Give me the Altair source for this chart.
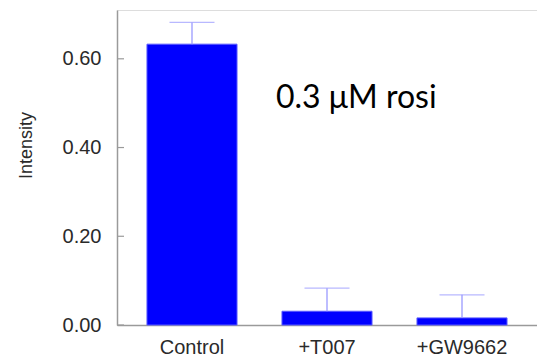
import altair as alt
import pandas as pd

categories = ["Control", "+T007", "+GW9662"]
means = [0.633, 0.031, 0.016]
uppers = [0.682, 0.083, 0.068]
y_ticks = [0.0, 0.2, 0.4, 0.6]

df = pd.DataFrame({"cat": categories, "mean": means, "upper": uppers})
ticks_df = pd.DataFrame({"t": y_ticks})

AXIS_GRAY = "#9a9a9a"
LABEL_COLOR = "#2a2a2a"

xenc = alt.X(
    "cat:N",
    sort=categories,
    title=None,
    scale=alt.Scale(paddingInner=0.333, paddingOuter=0.222),
    axis=alt.Axis(
        ticks=False,
        tickSize=0,
        labelAngle=0,
        labelFont="Liberation Sans",
        labelFontSize=20,
        labelColor=LABEL_COLOR,
        labelPadding=12,
        domainColor=AXIS_GRAY,
        domainWidth=1.5,
    ),
)

yscale = alt.Scale(domain=[0, 0.71], nice=False, zero=True)

bars = alt.Chart(df).mark_bar(color="#0000ff", stroke="#5a5aff", strokeWidth=1).encode(
    x=xenc,
    y=alt.Y(
        "mean:Q",
        scale=yscale,
        title="Intensity",
        axis=alt.Axis(
            values=y_ticks,
            format=".2f",
            ticks=False,
            tickSize=0,
            grid=False,
            labelFont="Liberation Sans",
            labelFontSize=20,
            labelColor=LABEL_COLOR,
            labelPadding=16,
            domainColor=AXIS_GRAY,
            domainWidth=1.5,
            titleFont="Liberation Sans",
            titleFontSize=18,
            titleFontWeight="normal",
            titleColor=LABEL_COLOR,
            titleAngle=270,
            titleAlign="center",
            titleBaseline="alphabetic",
            titleX=-86,
            titleY=135,
        ),
    ),
)

err_line = alt.Chart(df).mark_rule(color="#9a9aff", strokeWidth=1.3).encode(
    x=alt.X("cat:N", sort=categories),
    y=alt.Y("mean:Q", scale=yscale),
    y2="upper:Q",
)

err_cap = alt.Chart(df).mark_tick(color="#9a9aff", thickness=1.3, size=45).encode(
    x=alt.X("cat:N", sort=categories),
    y=alt.Y("upper:Q", scale=yscale),
)

tick_marks = alt.Chart(ticks_df).mark_rule(color=AXIS_GRAY, strokeWidth=1.2).encode(
    y=alt.Y("t:Q", scale=yscale),
    x=alt.value(0),
    x2=alt.value(7),
)

label = alt.Chart(pd.DataFrame({"txt": ["0.3 \u03bcM rosi"]})).mark_text(
    font="Lato", fontSize=32, align="left", baseline="alphabetic", color="#000000"
).encode(
    text="txt:N",
    x=alt.value(159),
    y=alt.value(98),
)

chart = (
    alt.layer(bars, err_line, err_cap, tick_marks, label)
    .properties(
        width=420,
        height=315,
        autosize=alt.AutoSizeParams(type="none"),
        padding={"left": 117, "top": 10, "right": 0, "bottom": 36},
    )
    .configure_view(stroke=None)
    .configure(background="white")
)

chart.save("out.html", embed_options={"renderer": "svg", "actions": False})
